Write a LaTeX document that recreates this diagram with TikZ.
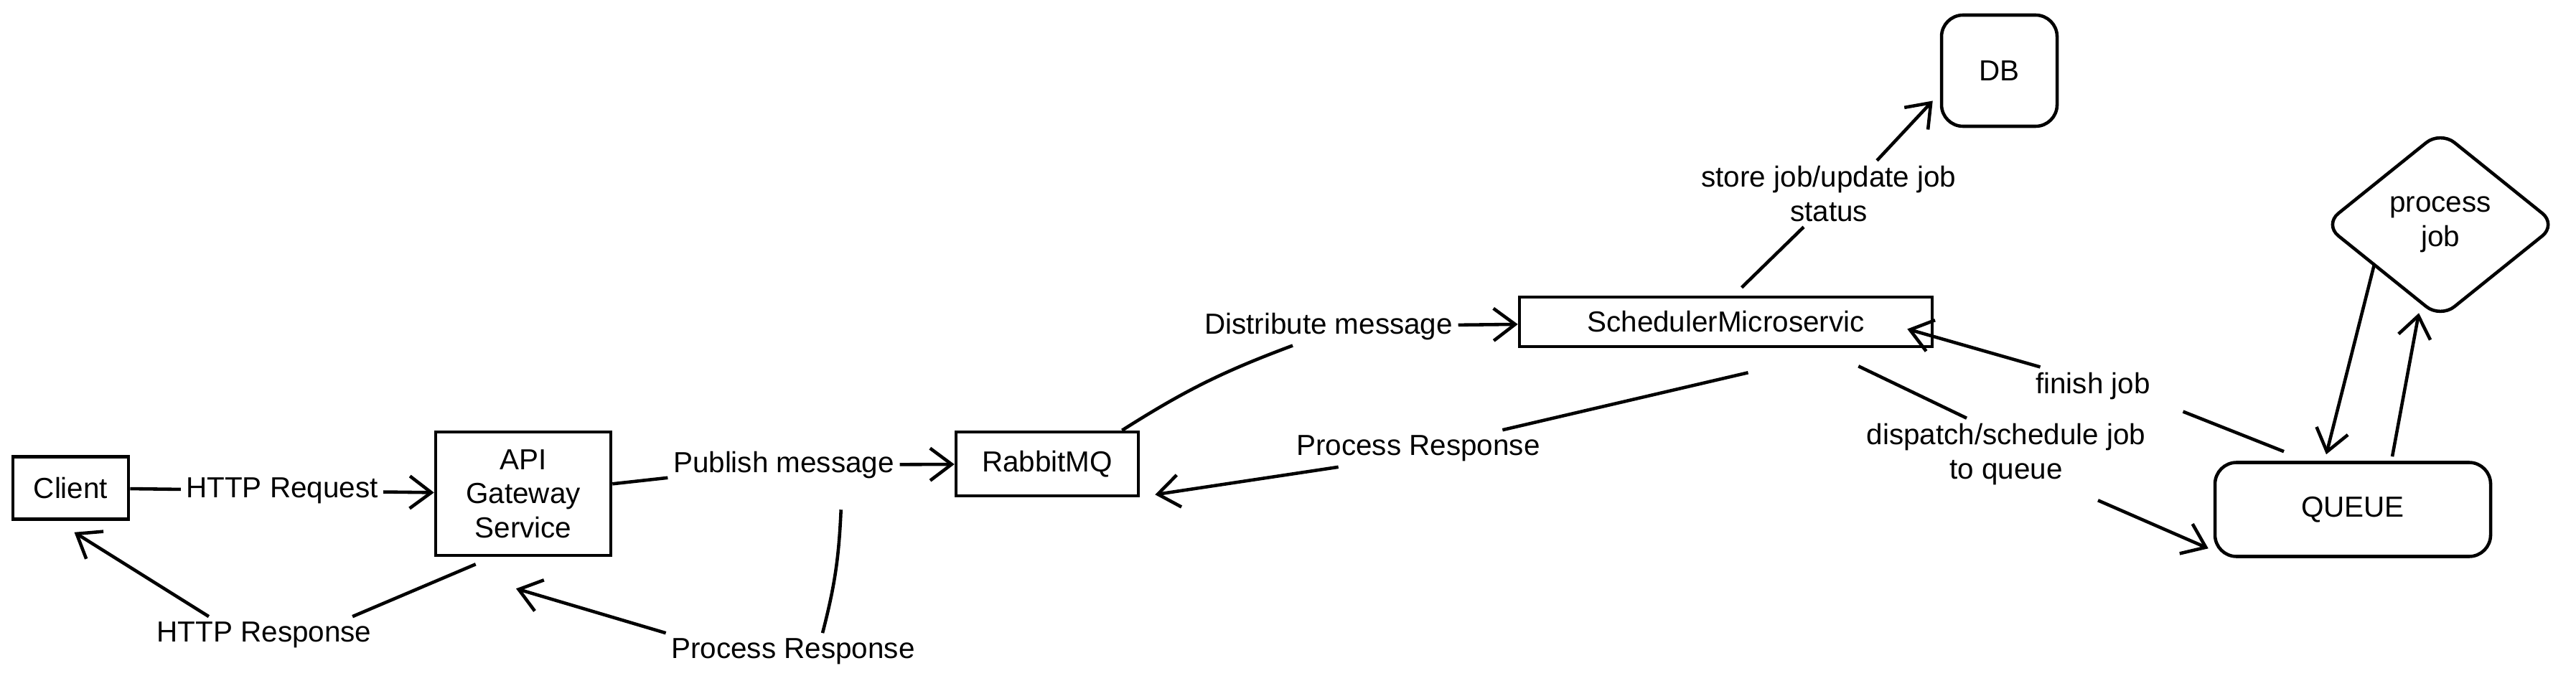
\documentclass[tikz,border=0pt]{standalone}
\usepackage{fontspec}
\setmainfont{Liberation Sans}
\usetikzlibrary{positioning,shapes.geometric,arrows.meta}
\newcommand{\dgfont}{\fontsize{11.5}{13.5}\selectfont}

\begin{document}
\begin{tikzpicture}[
    box/.style={rectangle, draw, line width=1.3pt, font=\dgfont, align=center, inner sep=0pt},
    roundbox/.style={box, rounded corners=0.3cm},
    choice/.style={diamond, draw, line width=1.3pt, rounded corners=0.25cm, font=\dgfont, align=center, inner sep=0pt},
    lbl/.style={font=\dgfont, align=center, inner sep=2pt},
    arrow/.style={-{Straight Barb[length=3mm,width=4.5mm]}, line width=1.3pt},
    line/.style={line width=1.3pt}
]
\useasboundingbox (0,0) rectangle (35.89,9.55);

% Services
\node[box, minimum width=1.61cm, minimum height=0.87cm] (cl) at (0.985,2.75) {Client};
\node[box, minimum width=2.44cm, minimum height=1.72cm] (api) at (7.29,2.67) {API\\Gateway\\Service};
\node[box, minimum width=2.54cm, minimum height=0.89cm] (rmq) at (14.59,3.085) {RabbitMQ};
\node[box, minimum width=5.75cm, minimum height=0.69cm] (sch) at (24.045,5.065) {SchedulerMicroservic};
\node[roundbox, minimum width=1.61cm, minimum height=1.55cm] (db) at (27.855,8.565) {DB};
\node[choice, minimum width=3.25cm, minimum height=2.62cm] (pj) at (34.00,6.42) {process\\job};
\node[roundbox, minimum width=3.84cm, minimum height=1.31cm] (q) at (32.78,2.45) {QUEUE};

% Labels
\node[lbl] (pub) at (10.92,3.07) {Publish message};
\node[lbl] (dist) at (18.51,5.00) {Distribute message};
\node[lbl] (prm) at (19.76,3.30) {Process Response};
\node[lbl] (prb) at (11.05,0.47) {Process Response};
\node[lbl] (hres) at (3.68,0.70) {HTTP Response};
\node[lbl] (sj) at (25.48,6.85) {store job/update job\\status};
\node[lbl] (fj) at (29.16,4.17) {finish job};
\node[lbl] (dq) at (27.95,3.22) {dispatch/schedule job\\to queue};

% Request path
\draw[arrow] (cl) -- node[lbl, fill=white] {HTTP Request} (api);
\draw[arrow] (api) -- (pub) -- (rmq);
\draw[line] ([xshift=-2.5mm]rmq.north east) to[bend left=6] ([xshift=-5mm]dist.south);
\draw[arrow] (dist) -- (sch);

% Response path
\draw[line] ([xshift=3.1mm,yshift=-3.4mm]sch.south) -- ([xshift=-6mm]prm.north east);
\draw[arrow] ([xshift=6.6mm]prm.south west) -- ([xshift=2.1mm,yshift=0.4mm]rmq.south east);
\draw[line] ([xshift=-15.8mm,yshift=-1.7mm]rmq.south west) to[bend left=6] ([xshift=4.1mm]prb.north);
\draw[arrow] (prb.north west) -- ([xshift=-1mm,yshift=-4.4mm]api.south);
\draw[line] ([xshift=5.8mm,yshift=-1mm]api.south west) -- ([xshift=-3.4mm]hres.north east);
\draw[arrow] ([xshift=8mm]hres.north west) -- ([xshift=0.5mm,yshift=-1.6mm]cl.south);

% Scheduler side
\draw[line] ([xshift=2.2mm,yshift=1.1mm]sch.north) -- ([xshift=-3.5mm]sj.south);
\draw[arrow] ([xshift=6.7mm]sj.north) -- ([xshift=-1mm,yshift=-4.2mm]db.west);
\draw[line] ([xshift=-10.5mm,yshift=-2.5mm]sch.south east) -- ([xshift=-5.5mm]dq.north);
\draw[arrow] ([xshift=12.8mm,yshift=-1.4mm]dq.south) -- ([xshift=-0.7mm,yshift=1.35mm]q.south west);
\draw[line] ([xshift=-9.6mm,yshift=1.3mm]q.north) -- ([xshift=3.8mm,yshift=-0.9mm]fj.south east);
\draw[arrow] ([xshift=1.4mm]fj.north west) -- ([xshift=-3.7mm,yshift=-1mm]sch.east);

% Worker loop
\draw[arrow] ([xshift=-1mm,yshift=1mm]pj.south west) -- ([xshift=-3.7mm,yshift=0.9mm]q.north);
\draw[arrow] ([xshift=5.5mm,yshift=0.6mm]q.north) -- ([xshift=-3mm,yshift=1mm]pj.south);

\end{tikzpicture}
\end{document}
